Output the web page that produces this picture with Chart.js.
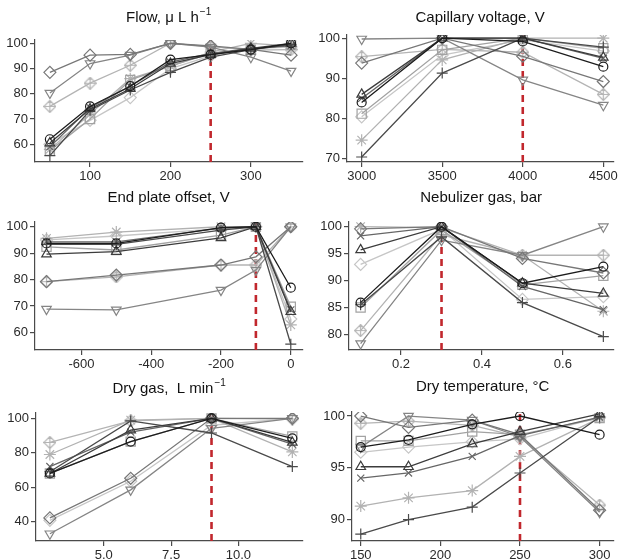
<!DOCTYPE html>
<html>
<head>
<meta charset="utf-8">
<script src="https://cdn.jsdelivr.net/npm/chart.js@4.4.1/dist/chart.umd.min.js"></script>
<style>
    body { margin: 0; background: #fff; width: 621px; height: 560px; position: relative; overflow: hidden; }
    canvas { position: absolute; }
</style>
</head>
<body>
<canvas id="flow" width="310" height="180" style="left:0;top:0"></canvas>
<canvas id="capillary" width="311" height="180" style="left:310px;top:0"></canvas>
<canvas id="endplate" width="310" height="190" style="left:0;top:180px"></canvas>
<canvas id="nebulizer" width="311" height="190" style="left:310px;top:180px"></canvas>
<canvas id="drygas" width="310" height="190" style="left:0;top:370px"></canvas>
<canvas id="drytemp" width="311" height="190" style="left:310px;top:370px"></canvas>
<script>
// series order in every panel: circle, triangle, plus, x, diamond, inverted triangle,
// square, asterisk, diamond-plus, light diamond
const flowX = [50, 100, 150, 200, 250, 300, 350];
const flowY = [
    [62, 75, 83, 93.5, 95.5, 97.5, 100],
    [60.5, 74, 82, 92, 95.5, 98, 100],
    [55.5, 73.5, 81.5, 88.5, 94.5, 97.5, 99.5],
    [59, 74.5, 83, 92.5, 96, 98, 99],
    [88.5, 95.3, 95.6, 100, 99, 97.6, 95.3],
    [80.3, 92, 95.3, 100, 98.5, 94.5, 89],
    [57.5, 70, 85.5, 91, 96, 97.5, 99.5],
    [58, 72, 86, 91, 96.5, 100, 99],
    [75, 84.2, 91.3, 100, 98.7, 97.3, 97.5],
    [60, 69.5, 78.5, 90, 95, 98, 98.5],
];
const flowXTicks = [100, 200, 300];
const flowYTicks = [60, 70, 80, 90, 100];

const capX = [3000, 3500, 4000, 4500];
const capY = [
    [84, 100, 99.2, 92.9],
    [86, 100, 100, 95.2],
    [70.4, 91.3, 100, 97.8],
    [85, 100, 100, 95],
    [93.8, 100, 95.5, 89.2],
    [99.8, 100, 89.6, 83.3],
    [81.2, 97.1, 100, 97.5],
    [74.6, 94.6, 100, 100],
    [95.4, 97.2, 96.5, 86],
    [80.4, 95.8, 99.6, 96.8],
];
const capXTicks = [3000, 3500, 4000, 4500];
const capYTicks = [70, 80, 90, 100];

const endX = [-700, -500, -200, -100, 0];
const endY = [
    [93.7, 93.7, 99.7, 100, 76.9],
    [89.6, 90.6, 95.8, 100, 67.8],
    [93.3, 93.3, 98.7, 100, 55.5],
    [94.3, 94.3, 99.5, 100, 68.5],
    [79.2, 81.7, 85.5, 88.6, 100],
    [68.8, 68.5, 76, 83.6, 100],
    [92.4, 91.2, 96.8, 100, 69.7],
    [95.6, 98, 100, 100, 62.8],
    [79.2, 81, 85.5, 85.5, 100],
    [95, 96.5, 99.3, 100, 65],
];
const endXTicks = [-600, -400, -200, 0];
const endYTicks = [60, 70, 80, 90, 100];

const nebX = [0.1, 0.3, 0.5, 0.7];
const nebY = [
    [85.9, 100, 89.5, 92.6],
    [95.7, 100, 89.5, 87.6],
    [85.5, 98.1, 85.9, 79.6],
    [98.3, 100, 88.9, 84.6],
    [99.6, 100, 94.1, 91.4],
    [78.3, 97.5, 94.7, 100],
    [85, 99.4, 89.2, 90.9],
    [100, 99.8, 94.7, 84.3],
    [80.7, 98.5, 94.7, 94.7],
    [93, 99.5, 86.5, 87],
];
const nebXTicks = [0.2, 0.4, 0.6];
const nebYTicks = [80, 85, 90, 95, 100];

const gasX = [3, 6, 9, 12];
const gasY = [
    [68, 86.5, 100, 88.4],
    [68, 93.2, 100, 86],
    [69, 98.5, 91.5, 72],
    [72, 92, 100, 85],
    [42.2, 65.2, 100, 100],
    [33, 58.5, 94.2, 100],
    [68, 86.5, 100, 89.5],
    [79, 99, 100, 80.5],
    [86, 98.5, 100, 99.6],
    [40.8, 63.5, 96, 100],
];
const gasXTicks = [5, 7.5, 10];
const gasYTicks = [40, 60, 80, 100];

const tempX = [150, 180, 220, 250, 300];
const tempY = [
    [97, 97.7, 99.2, 100, 98.2],
    [95.1, 95.1, 97.3, 98.5, 100.2],
    [88.6, 90, 91.2, 94.5, 99.9],
    [94, 94.5, 96.1, 98.1, 99.9],
    [100, 98.9, 99.6, 98.2, 90.9],
    [97, 100, 99.6, 98, 90.7],
    [97.6, 97.6, 98.5, 98.2, 99.8],
    [91.3, 92.1, 92.8, 96.1, 99.8],
    [99.3, 99.5, 99.1, 98, 91.4],
    [96.5, 97, 97.5, 97.8, 99.9],
];
const tempXTicks = [150, 200, 250, 300];
const tempYTicks = [90, 95, 100];

const optimum = { flow: 250, capillary: 4000, endplate: -100, nebulizer: 0.3, drygas: 9, drytemp: 250 };

const FONT = '"Liberation Sans", Arial, sans-serif';

function diamondPlus(color) {
    const c = document.createElement('canvas');
    c.width = 13;
    c.height = 13;
    const g = c.getContext('2d');
    g.strokeStyle = color;
    g.lineWidth = 1.2;
    g.beginPath();
    g.moveTo(6.5, 0.5); g.lineTo(12.5, 6.5); g.lineTo(6.5, 12.5); g.lineTo(0.5, 6.5); g.closePath();
    g.moveTo(6.5, 0.5); g.lineTo(6.5, 12.5);
    g.moveTo(0.5, 6.5); g.lineTo(12.5, 6.5);
    g.stroke();
    return c;
}

const seriesStyles = [
    { style: 'circle', color: '#1c1c1c', r: 4.5 },
    { style: 'triangle', color: '#3c3c3c', r: 5.5 },
    { style: 'cross', color: '#4a4a4a', r: 5.5 },
    { style: 'crossRot', color: '#666666', r: 5 },
    { style: 'rectRot', color: '#777777', r: 6 },
    { style: 'triangle', color: '#858585', r: 5.5, rot: 180 },
    { style: 'rect', color: '#a2a2a2', r: 6.5 },
    { style: 'star', color: '#b2b2b2', r: 6 },
    { style: diamondPlus('#b4b4b4'), color: '#b4b4b4', r: 6 },
    { style: 'rectRot', color: '#c6c6c6', r: 6 },
];

const titlePlugin = {
    id: 'panelTitle',
    afterDraw(chart, args, opts) {
        const { ctx, chartArea } = chart;
        ctx.save();
        ctx.fillStyle = '#111';
        ctx.textBaseline = 'middle';
        ctx.font = '15px ' + FONT;
        const w1 = ctx.measureText(opts.text).width;
        ctx.font = '10px ' + FONT;
        const w2 = opts.sup ? ctx.measureText(opts.sup).width + 1 : 0;
        const x = (chartArea.left + chartArea.right) / 2 - (w1 + w2) / 2;
        ctx.font = '15px ' + FONT;
        ctx.fillText(opts.text, x, opts.y);
        if (opts.sup) {
            ctx.font = '10px ' + FONT;
            ctx.fillText(opts.sup, x + w1 + 1, opts.y - 6);
        }
        ctx.restore();
    },
};

function axis(min, max, ticks, size, fmt, isX) {
    return {
        type: 'linear',
        min: min,
        max: max,
        afterBuildTicks: (s) => { s.ticks = ticks.map((v) => ({ value: v })); },
        afterFit: (s) => {
            if (isX) s.height = size; else s.width = size;
            s.paddingLeft = 0; s.paddingRight = 0; s.paddingTop = 0; s.paddingBottom = 0;
        },
        border: { display: true, color: '#4a4a4a', width: 1.2 },
        grid: { display: true, drawOnChartArea: false, drawTicks: true, tickLength: 5, color: '#4a4a4a', tickColor: '#4a4a4a', lineWidth: 1.2 },
        ticks: {
            color: '#2a2a2a',
            font: { family: FONT, size: 13 },
            padding: 2,
            maxRotation: 0,
            autoSkip: false,
            callback: (v) => fmt(v),
        },
    };
}

const plain = (v) => String(v);
const oneDec = (v) => v.toFixed(1);

function panel(id, title, sup, xs, ys, xr, yr, xTicks, yTicks, geo, xFmt) {
    const datasets = ys.map((vals, i) => {
        const st = seriesStyles[i];
        return {
            data: xs.map((x, j) => ({ x: x, y: vals[j] })),
            borderColor: st.color,
            borderWidth: 1.3,
            pointStyle: st.style,
            pointRotation: st.rot || 0,
            pointRadius: st.r,
            pointBorderColor: st.color,
            pointBackgroundColor: 'rgba(0,0,0,0)',
            pointBorderWidth: 1.2,
            tension: 0,
        };
    });
    datasets.push({
        data: [{ x: optimum[id], y: yr[0] }, { x: optimum[id], y: yr[1] }],
        borderColor: '#c1272d',
        borderWidth: 2.6,
        borderDash: [7, 5],
        pointRadius: 0,
    });
    new Chart(document.getElementById(id), {
        type: 'line',
        data: { datasets: datasets },
        options: {
            responsive: false,
            animation: false,
            events: [],
            layout: { padding: { top: geo.top, right: geo.right, left: 0, bottom: 0 } },
            plugins: {
                legend: { display: false },
                tooltip: { enabled: false },
                panelTitle: { text: title, sup: sup, y: geo.titleY },
            },
            scales: {
                x: axis(xr[0], xr[1], xTicks, geo.xh, xFmt || plain, true),
                y: axis(yr[0], yr[1], yTicks, geo.yw, plain, false),
            },
        },
        plugins: [titlePlugin],
    });
}

panel('flow', 'Flow, \u03bc L h', '\u22121', flowX, flowY, [31.5, 364], [53, 101.3], flowXTicks, flowYTicks,
    { top: 40, right: 5, xh: 18, yw: 35, titleY: 18 });
panel('capillary', 'Capillary voltage, V', '', capX, capY, [2909, 4562], [69.15, 100.8], capXTicks, capYTicks,
    { top: 35, right: 6, xh: 18, yw: 37, titleY: 18 });
panel('endplate', 'End plate offset, V', '', endX, endY, [-733, 33], [53.3, 101.8], endXTicks, endYTicks,
    { top: 42, right: 5, xh: 20, yw: 35, titleY: 18 });
panel('nebulizer', 'Nebulizer gas, bar', '', nebX, nebY, [0.0713, 0.7246], [77.1, 100.87], nebXTicks, nebYTicks,
    { top: 42, right: 6, xh: 20, yw: 39, titleY: 18 }, oneDec);
panel('drygas', 'Dry gas,  L min', '\u22121', gasX, gasY, [2.485, 12.37], [28.8, 103.1], gasXTicks, gasYTicks,
    { top: 43, right: 5, xh: 19, yw: 36, titleY: 19 }, oneDec);
panel('drytemp', 'Dry temperature, \u00b0C', '', tempX, tempY, [144.5, 308.6], [87.93, 100.39], tempXTicks, tempYTicks,
    { top: 42, right: 6, xh: 19, yw: 42, titleY: 17 });
</script>
</body>
</html>
